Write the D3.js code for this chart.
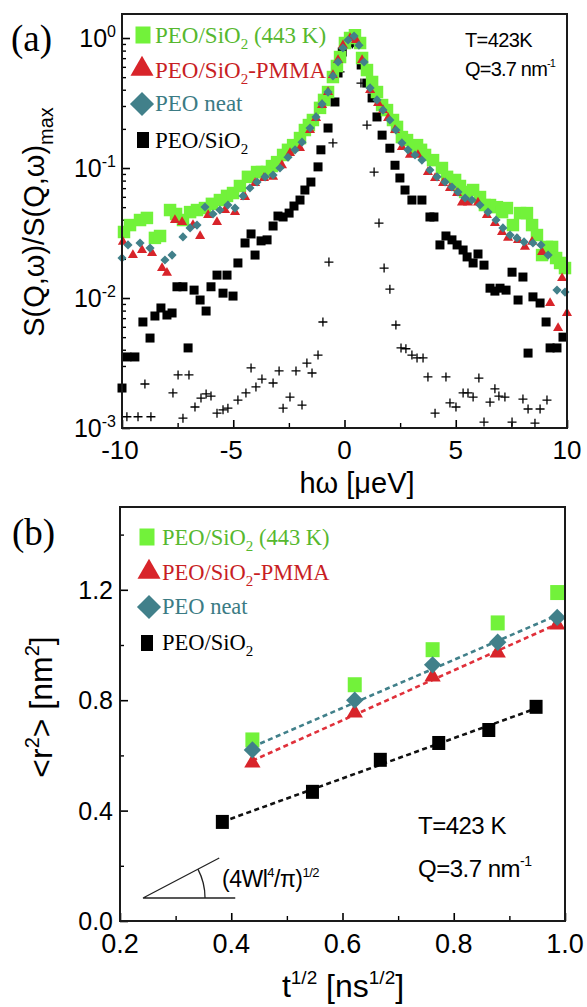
<!DOCTYPE html>
<html><head><meta charset="utf-8">
<script src="https://cdn.jsdelivr.net/npm/d3@7"></script>
<style>body{margin:0;background:#fff} svg{display:block}</style>
</head><body>
<svg id="c" width="587" height="1007"></svg>
<script>
// ---------- Panel (a) data: S(Q,w)/S(Q,w)max vs hw [ueV] ----------
const aGreen = [[-9.91,0.0322],[-9.64,0.0364],[-9.19,0.0398],[-8.88,0.0413],[-8.52,0.029],[-8.29,0.030],[-7.84,0.0475],[-7.57,0.0443],[-7.26,0.0398],[-6.94,0.0458],[-6.63,0.0475],[-6.27,0.0492],[-5.96,0.053],[-5.60,0.0567],[-5.28,0.061],[-5.01,0.0642],[-4.70,0.0727],[-4.34,0.0855],[-3.93,0.0931],[-3.71,0.0931],[-3.48,0.0931],[-3.26,0.1035],[-3.03,0.111],[-2.76,0.126],[-2.54,0.138],[-2.31,0.150],[-2.0,0.170],[-1.78,0.196],[-1.60,0.214],[-1.42,0.234],[-1.10,0.290],[-0.92,0.334],[-0.74,0.384],[-0.52,0.501],[-0.34,0.609],[-0.20,0.714],[0.02,0.915],[0.25,1.0],[0.47,1.05],[0.70,0.915],[0.79,0.702],[1.01,0.567],[1.24,0.459],[1.46,0.384],[1.69,0.305],[1.91,0.279],[2.18,0.234],[2.36,0.207],[2.58,0.173],[2.81,0.164],[3.08,0.145],[3.26,0.150],[3.44,0.138],[3.62,0.126],[3.98,0.115],[4.38,0.100],[4.61,0.0855],[4.97,0.0809],[5.19,0.0727],[5.42,0.0654],[5.78,0.0677],[6.09,0.0598],[6.31,0.0519],[6.54,0.0519],[6.85,0.050],[7.08,0.0458],[7.30,0.0492],[7.57,0.0364],[7.89,0.045],[8.20,0.045],[8.43,0.0364],[8.65,0.0305],[8.88,0.0214],[9.10,0.0247],[9.33,0.0247],[9.51,0.0203],[9.69,0.0186],[9.91,0.017]];
const aRed = [[-9.96,0.027],[-9.51,0.0214],[-9.10,0.0234],[-8.65,0.0222],[-8.20,0.017],[-7.98,0.0156],[-7.62,0.0398],[-7.30,0.0384],[-6.81,0.0364],[-6.49,0.030],[-6.13,0.0435],[-5.73,0.0384],[-5.37,0.0475],[-4.92,0.0458],[-4.47,0.0598],[-4.02,0.0767],[-3.62,0.0838],[-3.21,0.0855],[-2.81,0.105],[-2.45,0.130],[-2.0,0.142],[-1.55,0.196],[-1.28,0.242],[-1.01,0.305],[-0.74,0.384],[-0.52,0.519],[-0.29,0.677],[-0.07,0.88],[0.25,1.0],[0.52,0.965],[0.79,0.677],[1.15,0.398],[1.51,0.316],[1.73,0.279],[1.96,0.242],[2.27,0.196],[2.58,0.145],[2.94,0.126],[3.30,0.126],[3.75,0.0931],[4.07,0.0838],[4.43,0.0767],[4.74,0.0702],[5.06,0.0642],[5.28,0.0541],[5.55,0.0541],[6.0,0.0541],[6.40,0.0435],[6.76,0.0377],[7.08,0.0322],[7.35,0.029],[7.80,0.0279],[8.11,0.0247],[8.43,0.027],[8.88,0.0226],[9.24,0.00915],[9.60,0.00588],[9.78,0.0142],[10.0,0.00767]];
const aTeal = [[-10.0,0.0203],[-9.73,0.0256],[-9.19,0.0265],[-8.74,0.0242],[-8.07,0.0196],[-7.75,0.0214],[-7.26,0.0295],[-6.94,0.0346],[-6.63,0.0364],[-6.27,0.0501],[-5.91,0.0443],[-5.60,0.0475],[-5.24,0.0519],[-4.92,0.0492],[-4.56,0.061],[-4.25,0.0702],[-3.93,0.078],[-3.57,0.0855],[-3.21,0.0883],[-2.90,0.100],[-2.54,0.121],[-2.22,0.138],[-1.91,0.158],[-1.55,0.203],[-1.28,0.247],[-1.01,0.311],[-0.74,0.384],[-0.52,0.510],[-0.29,0.654],[-0.07,0.838],[0.16,0.965],[0.43,1.035],[0.65,0.88],[0.88,0.654],[1.15,0.413],[1.46,0.334],[1.73,0.279],[2.04,0.234],[2.31,0.196],[2.58,0.156],[2.85,0.138],[3.17,0.126],[3.48,0.115],[3.84,0.0966],[4.16,0.0855],[4.52,0.078],[4.83,0.0714],[5.10,0.0654],[5.42,0.0588],[5.73,0.0567],[6.09,0.0519],[6.45,0.0458],[6.81,0.0398],[7.12,0.0346],[7.44,0.0305],[7.75,0.029],[8.07,0.027],[8.47,0.0265],[8.83,0.0256],[9.15,0.0214],[9.55,0.0115],[9.91,0.0111]];
const aBlack = [[-10,0.00203],[-9.78,0.00352],[-9.42,0.00352],[-9.06,0.00654],[-8.74,0.00492],[-8.52,0.00727],[-8.25,0.00838],[-7.98,0.0074],[-7.75,0.00767],[-7.53,0.0122],[-7.26,0.0122],[-7.03,0.00413],[-6.76,0.0115],[-6.49,0.00965],[-6.22,0.00794],[-6.0,0.0122],[-5.73,0.015],[-5.46,0.0109],[-5.28,0.015],[-5.01,0.01035],[-4.79,0.0186],[-4.47,0.0265],[-4.2,0.0311],[-4.02,0.0214],[-3.75,0.0275],[-3.48,0.028],[-3.21,0.0358],[-2.99,0.0427],[-2.76,0.042],[-2.49,0.045],[-2.27,0.051],[-2.0,0.0567],[-1.78,0.0677],[-1.51,0.078],[-1.19,0.102],[-1.06,0.138],[-0.74,0.203],[-0.43,0.322],[-0.29,0.538],[-0.1,0.78],[0.2,0.95],[0.45,0.92],[0.75,0.62],[1.0,0.45],[1.24,0.346],[1.46,0.247],[1.69,0.179],[2.04,0.142],[2.27,0.105],[2.49,0.0838],[2.72,0.0677],[3.03,0.0567],[3.48,0.0567],[3.84,0.042],[4.02,0.042],[4.29,0.0256],[4.56,0.03],[4.83,0.028],[5.06,0.0256],[5.33,0.0234],[5.51,0.0207],[5.78,0.0186],[6.0,0.0218],[6.27,0.0179],[6.54,0.0119],[6.76,0.0113],[6.99,0.0119],[7.26,0.0115],[7.53,0.0158],[7.8,0.00965],[8.02,0.0145],[8.25,0.00377],[8.47,0.0102],[8.79,0.00915],[9.06,0.00654],[9.24,0.00413],[9.55,0.00413],[9.82,0.005]];
const aCross = [[-9.78,0.00122],[-9.28,0.00122],[-8.97,0.00218],[-8.7,0.00122],[-7.71,0.00186],[-7.48,0.00256],[-7.26,0.00119],[-6.99,0.00256],[-6.72,0.00145],[-6.45,0.0017],[-6.22,0.00183],[-6.0,0.00176],[-5.73,0.0013],[-5.46,0.00138],[-5.24,0.00142],[-4.79,0.00164],[-4.43,0.00186],[-4.2,0.0029],[-3.98,0.00207],[-3.71,0.00238],[-3.21,0.00222],[-2.94,0.00275],[-2.76,0.00142],[-2.45,0.00173],[-2.18,0.00275],[-1.91,0.0015],[-1.69,0.00316],[-1.46,0.00265],[-1.19,0.00364],[-0.97,0.00654],[-0.7,0.0189],[-0.52,0.156],[-0.2,0.548],[0.05,0.95],[0.35,0.9],[0.74,0.45],[1.01,0.214],[1.33,0.0931],[1.55,0.0377],[1.78,0.017],[2.04,0.0117],[2.31,0.0062],[2.54,0.00413],[2.76,0.00407],[3.03,0.00364],[3.26,0.00346],[3.53,0.00346],[3.75,0.00247],[4.07,0.0013],[4.56,0.00247],[4.74,0.00156],[5.01,0.00145],[5.33,0.00186],[5.55,0.00186],[5.78,0.00173],[6.04,0.00242],[6.27,0.00111],[6.54,0.00158],[6.76,0.002],[6.94,0.00176],[7.21,0.00173],[7.53,0.00111],[8.02,0.00167],[8.25,0.0014],[8.56,0.00109],[8.79,0.0014],[9.1,0.00164]];
const aXTicks = [-10,-5,0,5,10];
const aYTicks = [1e-3,1e-2,1e-1,1];
const aYTickExp = ["-3","-2","-1","0"];

// ---------- Panel (b) data: <r^2> vs t^1/2 ----------
const bX5 = [0.438,0.622,0.762,0.879,0.986];
const bGreen = [0.656,0.856,0.983,1.08,1.19];
const bRed = [0.573,0.754,0.885,0.972,1.073];
const bTeal = [0.62,0.80,0.928,1.01,1.10];
const bXBlack = [0.384,0.546,0.668,0.773,0.863,0.948];
const bBlack = [0.359,0.468,0.584,0.645,0.692,0.776];
const bXTicks = [0.2,0.4,0.6,0.8,1.0];
const bYTicks = [0.0,0.4,0.8,1.2];
// slope annotation: origin, end of slope line, end of horizontal line (data coords)
const bSlope = [[0.2414,0.0834],[0.3784,0.2284],[0.4072,0.0834]];

const legendLabels = [
  {sub:[["PEO/SiO","n"],["2","sub"],[" (443 K)","n"]], key:"green"},
  {sub:[["PEO/SiO","n"],["2","sub"],["-PMMA","n"]], key:"red"},
  {sub:[["PEO neat","n"]], key:"teal"},
  {sub:[["PEO/SiO","n"],["2","sub"]], key:"black"}
];

const COL = {green:"#72f23a", red:"#d8242a", teal:"#41808a", black:"#000"};
const TXT = {green:"#56b82e", red:"#c81e24", teal:"#3b7b84", black:"#000"};
const SANS = "'Liberation Sans', Arial, sans-serif";
const SERIF = "'Liberation Serif', 'Times New Roman', serif";

const svg = d3.select("#c");

function rich(g, x, y, parts, size, opts={}) {
  const small = opts.small || size*0.62;
  const t = g.append("text").attr("x",x).attr("y",y)
    .attr("font-family", opts.family || SANS).attr("font-size", size)
    .attr("fill", opts.fill || "#000")
    .attr("text-anchor", opts.anchor || "start");
  if (opts.transform) t.attr("transform", opts.transform);
  if (opts.ls) t.attr("letter-spacing", opts.ls);
  let shift = 0;
  parts.forEach(([s,k]) => {
    const target = k==="sub" ? size*(opts.subK||0.25) : k==="sup" ? -size*(opts.supK||0.42) : 0;
    const ts = t.append("tspan").attr("dy", target-shift).text(s);
    if (k!=="n") ts.attr("font-size", small);
    shift = target;
  });
  return t;
}

// ================= Panel (a) =================
const ax = d3.scaleLinear().domain([-10,10]).range([122,567]);
const ay = d3.scaleLog().domain([1e-3,1.53]).range([428,14]);

const ga = svg.append("g");
const aMinor = [];
for (let e=-3; e<=0; e++) for (let m=2; m<=9; m++) { const v=m*Math.pow(10,e); if (v<1.53) aMinor.push(v); }
ga.append("g").attr("transform",`translate(${ax(-10)},0)`)
  .call(d3.axisLeft(ay).tickValues(aMinor).tickSize(-4).tickFormat(""))
  .call(g=>{g.select(".domain").remove(); g.selectAll("line").attr("stroke-width",1.4);});
ga.append("g").attr("transform",`translate(${ax(-10)},0)`)
  .call(d3.axisLeft(ay).tickValues(aYTicks).tickSize(-8).tickFormat(""))
  .call(g=>{g.select(".domain").remove(); g.selectAll("line").attr("stroke-width",1.6);});
ga.append("g").attr("transform",`translate(0,${ay(1e-3)})`)
  .call(d3.axisBottom(ax).tickValues(d3.range(-7.5,10,5)).tickSize(-5).tickFormat(""))
  .call(g=>{g.select(".domain").remove(); g.selectAll("line").attr("stroke-width",1.4);});
ga.append("g").attr("transform",`translate(0,${ay(1e-3)})`)
  .call(d3.axisBottom(ax).tickValues(aXTicks).tickSize(-8).tickFormat(""))
  .call(g=>{g.select(".domain").remove(); g.selectAll("line").attr("stroke-width",1.6);});

aYTicks.forEach((v,i)=>{
  rich(ga, 116, ay(v)+9, [["10","n"],[aYTickExp[i],"sup"]], 25, {anchor:"end", small:16, supK:0.4});
});
aXTicks.forEach(v=>{
  ga.append("text").attr("x",ax(v)+(v<0?-2:0)).attr("y",459).attr("text-anchor","middle")
    .attr("font-family",SANS).attr("font-size",26).text(v<0? "-"+Math.abs(v) : String(v));
});

const clipA = svg.append("clipPath").attr("id","clipA").append("rect")
  .attr("x",ax(-10)-8).attr("y",ay(1.53)).attr("width",ax(10)-ax(-10)+16).attr("height",ay(1e-3)-ay(1.53)+6);
const da = ga.append("g").attr("clip-path","url(#clipA)");
da.append("g").selectAll("path").data(aCross).join("path")
  .attr("d", d=>`M${ax(d[0])-4.5},${ay(d[1])}h9M${ax(d[0])},${ay(d[1])-4.5}v9`)
  .attr("stroke","#000").attr("stroke-width",1.3).attr("fill","none");
da.append("g").selectAll("path").data(aBlack).join("path")
  .attr("transform", d=>`translate(${ax(d[0])},${ay(d[1])})`)
  .attr("d", d3.symbol(d3.symbolSquare, 81)).attr("fill","#000");
da.append("g").selectAll("path").data(aGreen).join("path")
  .attr("transform", d=>`translate(${ax(d[0])},${ay(d[1])})`)
  .attr("d", d3.symbol(d3.symbolSquare, 156)).attr("fill",COL.green);
da.append("g").selectAll("path").data(aRed).join("path")
  .attr("transform", d=>`translate(${ax(d[0])},${ay(d[1])})`)
  .attr("d", d3.symbol(d3.symbolTriangle, 44)).attr("fill",COL.red);
da.append("g").selectAll("path").data(aTeal).join("path")
  .attr("transform", d=>`translate(${ax(d[0])},${ay(d[1])}) rotate(45)`)
  .attr("d", d3.symbol(d3.symbolSquare, 42)).attr("fill",COL.teal);

ga.append("rect").attr("x",ax(-10)).attr("y",ay(1.53)).attr("width",ax(10)-ax(-10)).attr("height",ay(1e-3)-ay(1.53))
  .attr("fill","none").attr("stroke","#1a1a1a").attr("stroke-width",2);

const legA = [35,69,104,140];
const legAText = [43,78,111,148];
function legMarker(g, key, cx, cy) {
  if (key==="green") g.append("rect").attr("x",cx-7.5).attr("y",cy-8.5).attr("width",15).attr("height",17).attr("fill",COL.green);
  if (key==="black") g.append("rect").attr("x",cx-6).attr("y",cy-8).attr("width",12).attr("height",16).attr("fill","#000");
  if (key==="red") g.append("path").attr("transform",`translate(${cx},${cy})`).attr("d",d3.symbol(d3.symbolTriangle,230)).attr("fill",COL.red);
  if (key==="teal") g.append("path").attr("transform",`translate(${cx},${cy}) rotate(45)`).attr("d",d3.symbol(d3.symbolSquare,290)).attr("fill",COL.teal);
}
legendLabels.forEach((L,i)=>{
  legMarker(ga, L.key, L.key==="green"||L.key==="black"?143:142, legA[i]);
  rich(ga, 155, legAText[i], L.sub, 23, {family:SERIF, fill:TXT[L.key], small:15, subK:0.28});
});
rich(ga, 465, 47, [["T=423K","n"]], 20, {ls:-0.6});
rich(ga, 465, 76, [["Q=3.7","n"],[" nm","n"],["-1","sup"]], 20, {ls:-0.8, small:11, supK:0.45});

ga.append("text").attr("x",11).attr("y",51).attr("font-family",SERIF).attr("font-size",37).text("(a)");
rich(ga, 357, 493, [["hω [μeV]","n"]], 29, {anchor:"middle"});
rich(ga, 0, 0, [["S(Q,ω)/S(Q,ω)","n"],["max","sub"]], 29, {anchor:"middle", transform:"translate(44,222) rotate(-90)", small:20, subK:0.3});

// ================= Panel (b) =================
const bx = d3.scaleLinear().domain([0.2,1.0]).range([120,565]);
const by = d3.scaleLinear().domain([0,1.5]).range([921,507]);
const gb = svg.append("g");

gb.append("g").attr("transform",`translate(${bx(0.2)},0)`)
  .call(d3.axisLeft(by).tickValues([0.2,0.6,1.0,1.4]).tickSize(-4).tickFormat(""))
  .call(g=>{g.select(".domain").remove(); g.selectAll("line").attr("stroke-width",1.4);});
gb.append("g").attr("transform",`translate(${bx(0.2)},0)`)
  .call(d3.axisLeft(by).tickValues(bYTicks).tickSize(-8).tickFormat(""))
  .call(g=>{g.select(".domain").remove(); g.selectAll("line").attr("stroke-width",1.6);});
gb.append("g").attr("transform",`translate(0,${by(0)})`)
  .call(d3.axisBottom(bx).tickValues([0.3,0.5,0.7,0.9]).tickSize(-5).tickFormat(""))
  .call(g=>{g.select(".domain").remove(); g.selectAll("line").attr("stroke-width",1.4);});
gb.append("g").attr("transform",`translate(0,${by(0)})`)
  .call(d3.axisBottom(bx).tickValues(bXTicks).tickSize(-8).tickFormat(""))
  .call(g=>{g.select(".domain").remove(); g.selectAll("line").attr("stroke-width",1.6);});

bYTicks.forEach(v=>{
  gb.append("text").attr("x",113).attr("y",by(v)+9).attr("text-anchor","end")
    .attr("font-family",SANS).attr("font-size",25).text(v.toFixed(1));
});
bXTicks.forEach(v=>{
  gb.append("text").attr("x",bx(v)).attr("y",953).attr("text-anchor","middle")
    .attr("font-family",SANS).attr("font-size",27).text(v.toFixed(1));
});

function fit(xs, ys){
  const mx=d3.mean(xs), my=d3.mean(ys);
  const s=d3.sum(xs.map((x,i)=>(x-mx)*(ys[i]-my)))/d3.sum(xs.map(x=>(x-mx)**2));
  return x=>my+s*(x-mx);
}
[[bX5,bTeal,COL.teal],[bX5,bRed,"#e0303a"],[bXBlack,bBlack,"#111"]].forEach(([xs,ys,c])=>{
  const f=fit(xs,ys), x0=d3.min(xs), x1=d3.max(xs);
  gb.append("path").attr("d", d3.line().x(d=>bx(d)).y(d=>by(f(d)))([x0,x1]))
    .attr("stroke",c).attr("stroke-width",2.6).attr("stroke-dasharray","5,3.5").attr("fill","none");
});

gb.append("g").selectAll("rect").data(bX5.map((x,i)=>[x,bGreen[i]])).join("rect")
  .attr("x",d=>bx(d[0])-7).attr("y",d=>by(d[1])-7.5).attr("width",14).attr("height",15).attr("fill",COL.green);
gb.append("g").selectAll("path").data(bX5.map((x,i)=>[x,bRed[i]])).join("path")
  .attr("transform",d=>`translate(${bx(d[0])},${by(d[1])})`).attr("d",d3.symbol(d3.symbolTriangle,115)).attr("fill",COL.red);
gb.append("g").selectAll("path").data(bX5.map((x,i)=>[x,bTeal[i]])).join("path")
  .attr("transform",d=>`translate(${bx(d[0])},${by(d[1])}) rotate(45)`).attr("d",d3.symbol(d3.symbolSquare,150)).attr("fill",COL.teal);
gb.append("g").selectAll("rect").data(bXBlack.map((x,i)=>[x,bBlack[i]])).join("rect")
  .attr("x",d=>bx(d[0])-6.5).attr("y",d=>by(d[1])-7).attr("width",13).attr("height",14).attr("fill","#000");

gb.append("rect").attr("x",bx(0.2)).attr("y",by(1.5)).attr("width",bx(1.0)-bx(0.2)).attr("height",by(0)-by(1.5))
  .attr("fill","none").attr("stroke","#1a1a1a").attr("stroke-width",2);

const [o,p1,p2] = bSlope;
gb.append("path").attr("d",`M${bx(p1[0])},${by(p1[1])}L${bx(o[0])},${by(o[1])}L${bx(p2[0])},${by(p2[1])}`)
  .attr("stroke","#222").attr("stroke-width",1.3).attr("fill","none");
{
  const ox=bx(o[0]), oy=by(o[1]);
  const ang=Math.atan2(by(o[1])-by(p1[1]), bx(p1[0])-ox);
  const r=62;
  gb.append("path").attr("d",`M${ox+r*Math.cos(ang)},${oy-r*Math.sin(ang)}A${r},${r} 0 0 1 ${ox+r},${oy}`)
    .attr("stroke","#222").attr("stroke-width",1.3).attr("fill","none");
}
rich(gb, 222, 887, [["(4Wl","n"],["4","sup"],["/π)","n"],["1/2","sup"]], 23, {ls:-0.5, small:13, supK:0.45});

const legBY = [537,572,607,643];
const legBText = [545,580,614,650];
legendLabels.forEach((L,i)=>{
  legMarker(gb, L.key, L.key==="green"||L.key==="black"?147:149, legBY[i]);
  rich(gb, 162, legBText[i], L.sub, 22.5, {family:SERIF, fill:TXT[L.key], small:15, subK:0.28});
});
rich(gb, 418, 834, [["T=423 K","n"]], 24, {ls:-0.5});
rich(gb, 418, 877, [["Q=3.7 nm","n"],["-1","sup"]], 24, {ls:-0.5, small:14, supK:0.45});

ga.append("text").attr("x",12).attr("y",545).attr("font-family",SERIF).attr("font-size",37).text("(b)");
rich(gb, 343, 997, [["t","n"],["1/2","sup"],[" [ns","n"],["1/2","sup"],["]","n"]], 32, {anchor:"middle", small:19, supK:0.42});
rich(gb, 0, 0, [["<r","n"],["2","sup"],["> [nm","n"],["2","sup"],["]","n"]], 32, {anchor:"middle", transform:"translate(52,707) rotate(-90)", small:20, supK:0.42});
</script>
</body></html>
